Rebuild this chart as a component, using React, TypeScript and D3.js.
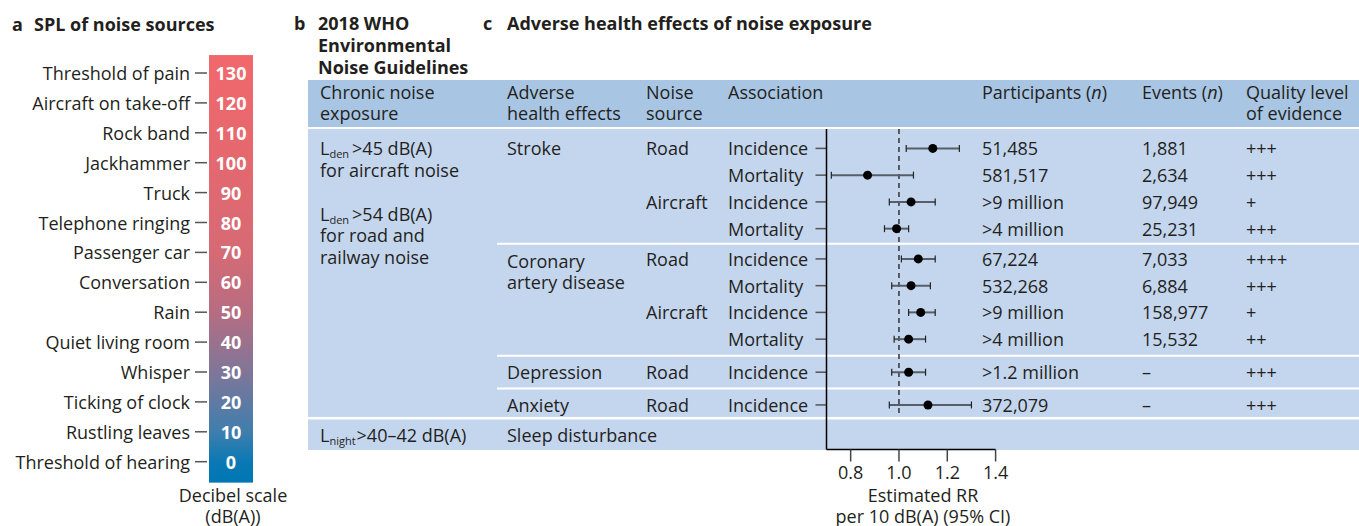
import React from "react";
import * as d3 from "d3";

// panel a: decibel scale
const noiseSources = [
  "Threshold of pain",
  "Aircraft on take-off",
  "Rock band",
  "Jackhammer",
  "Truck",
  "Telephone ringing",
  "Passenger car",
  "Conversation",
  "Rain",
  "Quiet living room",
  "Whisper",
  "Ticking of clock",
  "Rustling leaves",
  "Threshold of hearing",
];
const noiseDb = [130, 120, 110, 100, 90, 80, 70, 60, 50, 40, 30, 20, 10, 0];

// panel c: forest plot rows
const rowGroup = [0, 0, 0, 0, 1, 1, 1, 1, 2, 3];
const healthEffects = [["Stroke"], ["Coronary", "artery disease"], ["Depression"], ["Anxiety"]];
const noiseSource = ["Road", "", "Aircraft", "", "Road", "", "Aircraft", "", "Road", "Road"];
const association = [
  "Incidence", "Mortality", "Incidence", "Mortality",
  "Incidence", "Mortality", "Incidence", "Mortality",
  "Incidence", "Incidence",
];
const rr = [1.14, 0.87, 1.05, 0.99, 1.08, 1.05, 1.09, 1.04, 1.04, 1.12];
const ciLow = [1.03, 0.72, 0.96, 0.94, 1.01, 0.97, 1.04, 0.98, 0.97, 0.96];
const ciHigh = [1.25, 1.06, 1.15, 1.04, 1.15, 1.13, 1.15, 1.11, 1.11, 1.3];
const participants = [
  "51,485", "581,517", ">9 million", ">4 million",
  "67,224", "532,268", ">9 million", ">4 million",
  ">1.2 million", "372,079",
];
const events = ["1,881", "2,634", "97,949", "25,231", "7,033", "6,884", "158,977", "15,532", "–", "–"];
const quality = ["+++", "+++", "+", "+++", "++++", "+++", "+", "++", "+++", "+++"];
const rrTicks = [0.8, 1.0, 1.2, 1.4];

const FONT = "'Open Sans', 'Noto Sans', sans-serif";
const INK = "#231f20";
const HEAD_BG = "#a8c5e3";
const BODY_BG = "#c4d6ee";

const App = () => {
  const W = 1359;
  const H = 526;

  // decibel scale
  const dbY = d3.scaleLinear().domain([0, 130]).range([461.7, 73]);
  const barTop = dbY(136);
  const barBottom = dbY(-7);
  const gradStops: [number, string][] = [
    [136, "#f1686c"],
    [100, "#e4686f"],
    [70, "#d66a74"],
    [50, "#b66d82"],
    [30, "#807699"],
    [10, "#3f7ead"],
    [0, "#0a79b5"],
    [-7, "#0077b4"],
  ];

  // forest plot scales
  const x = d3.scaleLinear().domain([0.7, 1.4]).range([826.5, 995.6]);
  const groupGap = [0, 3.5, 9.8, 15.8];
  const rowY = (i: number) => 148.4 + i * 26.75 + groupGap[rowGroup[i]];
  const tableLeft = 308;
  const colLeft = 497;
  const headTop = 80;
  const headBottom = 127;
  const bodyTop = 129;
  const lastRow = rr.length - 1;
  const bodyBottom = rowY(lastRow) + 12;
  const sleepTop = bodyBottom + 2.5;
  const sleepBottom = 450;
  const axisX = x(0.7);
  const axisY = 449.5;

  const separators: number[] = [];
  for (let i = 1; i < rr.length; i++) {
    if (rowGroup[i] !== rowGroup[i - 1]) separators.push((rowY(i) + rowY(i - 1)) / 2);
  }
  const groupFirst = healthEffects.map((_, g) => rowGroup.indexOf(g));

  const txt = { fontFamily: FONT, fontSize: 18, fill: INK } as const;

  return (
    <svg
      width={W}
      height={H}
      style={{ position: "absolute", left: 0, top: 0, background: "#fff" }}
    >
      <defs>
        <linearGradient id="dbGrad" gradientUnits="userSpaceOnUse" x1={0} x2={0} y1={barTop} y2={barBottom}>
          {gradStops.map(([v, c]) => (
            <stop key={v} offset={(dbY(v) - barTop) / (barBottom - barTop)} stopColor={c} />
          ))}
        </linearGradient>
      </defs>

      {/* panel a */}
      <text x={12} y={24} dominantBaseline="central" {...txt} fontWeight="bold">a</text>
      <text x={34} y={24} dominantBaseline="central" {...txt} fontWeight="bold">SPL of noise sources</text>
      <rect x={209} y={barTop} width={44} height={barBottom - barTop} fill="url(#dbGrad)" />
      {noiseDb.map((v, i) => (
        <g key={v}>
          <line x1={195} x2={207} y1={dbY(v)} y2={dbY(v)} stroke="#555" strokeWidth={1.5} />
          <text x={190} y={dbY(v)} textAnchor="end" dominantBaseline="central" {...txt}>
            {noiseSources[i]}
          </text>
          <text x={231} y={dbY(v)} textAnchor="middle" dominantBaseline="central" {...txt} fill="#fff" fontWeight="bold">
            {v}
          </text>
        </g>
      ))}
      <text x={233} y={495} textAnchor="middle" dominantBaseline="central" {...txt}>Decibel scale</text>
      <text x={233} y={515.5} textAnchor="middle" dominantBaseline="central" {...txt}>(dB(A))</text>

      {/* panel b and c titles */}
      <text x={294} y={23} dominantBaseline="central" {...txt} fontWeight="bold">b</text>
      {["2018 WHO", "Environmental", "Noise Guidelines"].map((s, i) => (
        <text key={s} x={318} y={23 + i * 22} dominantBaseline="central" {...txt} fontWeight="bold">{s}</text>
      ))}
      <text x={483} y={23} dominantBaseline="central" {...txt} fontWeight="bold">c</text>
      <text x={507} y={23} dominantBaseline="central" {...txt} fontWeight="bold">
        Adverse health effects of noise exposure
      </text>

      {/* table backgrounds */}
      <rect x={tableLeft} y={headTop} width={W - tableLeft} height={headBottom - headTop} fill={HEAD_BG} />
      <rect x={tableLeft} y={bodyTop} width={W - tableLeft} height={bodyBottom - bodyTop} fill={BODY_BG} />
      <rect x={tableLeft} y={sleepTop} width={W - tableLeft} height={sleepBottom - sleepTop} fill={BODY_BG} />
      {separators.map((s) => (
        <line key={s} x1={colLeft} x2={W} y1={s} y2={s} stroke="#fff" strokeWidth={2} />
      ))}

      {/* header */}
      {[
        [320, ["Chronic noise", "exposure"]],
        [507, ["Adverse", "health effects"]],
        [646, ["Noise", "source"]],
        [728, ["Association"]],
        [1246, ["Quality level", "of evidence"]],
      ].map(([hx, lines]) =>
        (lines as string[]).map((l, j) => (
          <text key={`${hx}-${j}`} x={hx as number} y={92 + j * 21} dominantBaseline="central" {...txt}>{l}</text>
        ))
      )}
      <text x={982} y={92} dominantBaseline="central" {...txt}>
        Participants (<tspan fontStyle="italic">n</tspan>)
      </text>
      <text x={1142} y={92} dominantBaseline="central" {...txt}>
        Events (<tspan fontStyle="italic">n</tspan>)
      </text>

      {/* chronic noise exposure column */}
      <text x={320} y={147.5} dominantBaseline="central" {...txt}>
        L<tspan fontSize={11} dy={5}>den</tspan><tspan dy={-5} dx={3}>&gt;45 dB(A)</tspan>
      </text>
      <text x={320} y={169.5} dominantBaseline="central" {...txt}>for aircraft noise</text>
      <text x={320} y={213.5} dominantBaseline="central" {...txt}>
        L<tspan fontSize={11} dy={5}>den</tspan><tspan dy={-5} dx={3}>&gt;54 dB(A)</tspan>
      </text>
      <text x={320} y={235} dominantBaseline="central" {...txt}>for road and</text>
      <text x={320} y={256.5} dominantBaseline="central" {...txt}>railway noise</text>
      <text x={320} y={(sleepTop + sleepBottom) / 2} dominantBaseline="central" {...txt}>
        L<tspan fontSize={11} dy={5}>night</tspan><tspan dy={-5} dx={1}>&gt;40–42 dB(A)</tspan>
      </text>
      <text x={507} y={(sleepTop + sleepBottom) / 2} dominantBaseline="central" {...txt}>Sleep disturbance</text>

      {/* health effects */}
      {healthEffects.map((lines, g) =>
        lines.map((l, j) => (
          <text key={l} x={507} y={rowY(groupFirst[g]) + (lines.length > 1 ? 2 : 0) + j * 21} dominantBaseline="central" {...txt}>
            {l}
          </text>
        ))
      )}

      {/* rows */}
      {rr.map((v, i) => {
        const y = rowY(i);
        return (
          <g key={i}>
            {noiseSource[i] && (
              <text x={646} y={y} dominantBaseline="central" {...txt}>{noiseSource[i]}</text>
            )}
            <text x={728} y={y} dominantBaseline="central" {...txt}>{association[i]}</text>
            <line x1={axisX - 11} x2={axisX} y1={y} y2={y} stroke="#555" strokeWidth={1.5} />
            <text x={982} y={y} dominantBaseline="central" {...txt}>{participants[i]}</text>
            <text x={1142} y={y} dominantBaseline="central" {...txt}>{events[i]}</text>
            <text x={1246} y={y} dominantBaseline="central" {...txt}>{quality[i]}</text>
          </g>
        );
      })}

      {/* reference line at RR = 1 */}
      <line x1={x(1)} x2={x(1)} y1={bodyTop} y2={bodyBottom - 3} stroke="#333" strokeWidth={1.5} strokeDasharray="5 4" />

      {/* confidence intervals and estimates */}
      {rr.map((v, i) => {
        const y = rowY(i);
        return (
          <g key={`ci-${i}`}>
            <line x1={x(ciLow[i])} x2={x(ciHigh[i])} y1={y} y2={y} stroke="#565e69" strokeWidth={2} />
            <line x1={x(ciLow[i])} x2={x(ciLow[i])} y1={y - 3.5} y2={y + 3.5} stroke="#222" strokeWidth={1.2} />
            <line x1={x(ciHigh[i])} x2={x(ciHigh[i])} y1={y - 3.5} y2={y + 3.5} stroke="#222" strokeWidth={1.2} />
            <circle cx={x(v)} cy={y} r={4.5} fill="#000" />
          </g>
        );
      })}

      {/* axes */}
      <line x1={axisX} x2={axisX} y1={bodyTop} y2={axisY} stroke="#000" strokeWidth={1.5} />
      <line x1={axisX} x2={x(1.4)} y1={axisY} y2={axisY} stroke="#000" strokeWidth={1.5} />
      {rrTicks.map((t) => (
        <g key={t}>
          <line x1={x(t)} x2={x(t)} y1={axisY} y2={axisY + 12} stroke="#444" strokeWidth={1.5} />
          <text x={x(t)} y={472} textAnchor="middle" dominantBaseline="central" {...txt}>
            {d3.format(".1f")(t)}
          </text>
        </g>
      ))}
      <text x={923} y={494.5} textAnchor="middle" dominantBaseline="central" {...txt}>Estimated RR</text>
      <text x={923} y={515.5} textAnchor="middle" dominantBaseline="central" {...txt}>per 10 dB(A) (95% CI)</text>
    </svg>
  );
};

export default App;
